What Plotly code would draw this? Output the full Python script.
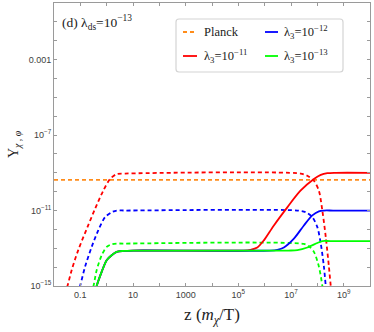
import numpy as np
import plotly.graph_objects as go

# ---- data (log10 values) ----
planck_lx = [-2, 10]
planck_ly = [-9.38, -9.38]

red_dash_lx = [-1.6, -1.49, -1.33, -1.08, -0.73, -0.44, -0.13, 0.13, 0.38, 0.7, 7.36, 7.62, 7.87, 8.06, 8.19, 8.32, 8.44, 8.51, 8.55]
red_dash_ly = [-15.4, -15, -14.16, -13.1, -11.88, -10.91, -9.95, -9.33, -9.07, -9.04, -9.04, -9.16, -9.42, -9.95, -11.0, -12.4, -13.98, -15, -15.5]

blue_dash_lx = [-1.1, -1.01, -0.82, -0.57, -0.32, -0.06, 0.19, 0.38, 0.7, 7.24, 7.56, 7.81, 8.0, 8.13, 8.25, 8.32, 8.36]
blue_dash_ly = [-15.4, -15, -13.98, -12.93, -12.05, -11.35, -11.09, -11.0, -11.0, -11.0, -11.09, -11.35, -11.88, -12.75, -13.98, -15, -15.5]

green_dash_lx = [-0.58, -0.5, -0.38, -0.19, 0.0, 0.19, 0.38, 0.7, 7.49, 7.68, 7.87, 8.06, 8.19, 8.23]
green_dash_ly = [-15.4, -15, -14.16, -13.37, -12.93, -12.79, -12.75, -12.75, -12.77, -12.89, -13.19, -13.98, -15, -15.5]

red_solid_lx = [-0.45, -0.38, -0.19, 0.0, 0.19, 0.38, 0.64, 1.02, 5.2, 5.46, 5.72, 5.97, 6.35, 6.86, 7.36, 7.87, 8.13, 8.38, 8.7, 10]
red_solid_ly = [-15.4, -15, -14.25, -13.63, -13.37, -13.19, -13.14, -13.12, -13.12, -13.08, -12.96, -12.58, -11.79, -10.83, -9.95, -9.33, -9.11, -9.02, -9.0, -9.0]

blue_solid_lx = [-0.45, -0.38, -0.19, 0.0, 0.19, 0.38, 0.64, 1.02, 6.2, 6.48, 6.73, 7.11, 7.49, 7.81, 8.06, 8.25, 8.6, 10]
blue_solid_ly = [-15.4, -15, -14.25, -13.63, -13.37, -13.19, -13.14, -13.12, -13.12, -13.08, -12.96, -12.49, -11.79, -11.26, -11.04, -11.0, -11.0, -11.0]

green_solid_lx = [-0.45, -0.38, -0.19, 0.0, 0.19, 0.38, 0.64, 1.02, 6.9, 7.24, 7.62, 8.0, 8.19, 8.5, 10]
green_solid_ly = [-15.4, -15, -14.25, -13.63, -13.37, -13.19, -13.14, -13.12, -13.12, -13.1, -12.96, -12.72, -12.62, -12.62, -12.62]

x_major_exp = [-1, 1, 3, 5, 7, 9]
x_major_labels = ["0.1", "10", "1000", "10<sup>5</sup>", "10<sup>7</sup>", "10<sup>9</sup>"]
x_minor_exp = list(range(-2, 11))
y_major_exp = [-15, -11, -7, -3]
y_major_labels = ["10<sup>−15</sup>", "10<sup>−11</sup>", "10<sup>−7</sup>", "0.001"]
y_minor_exp = list(range(-15, 1))

legend_labels = ["Planck", "λ<sub>3</sub>=10<sup>−11</sup>", "λ<sub>3</sub>=10<sup>−12</sup>", "λ<sub>3</sub>=10<sup>−13</sup>"]

ORANGE = "#ff8c1a"
RED = "#ff0000"
BLUE = "#0000ff"
GREEN = "#00ff00"
legend_colors = [ORANGE, RED, BLUE, GREEN]
legend_dashes = ["4px,3px", "solid", "solid", "solid"]

def p(v):
    return np.power(10.0, np.array(v, dtype=float))

fig = go.Figure()

def add(lx, ly, color, dash, name, width=1.8):
    fig.add_trace(go.Scatter(
        x=p(lx), y=p(ly), mode="lines",
        line=dict(color=color, dash=dash, width=width, shape="spline", smoothing=0.8),
        name=name, showlegend=False, hoverinfo="skip",
    ))

add(planck_lx, planck_ly, ORANGE, "4px,3px", legend_labels[0])
add(red_dash_lx, red_dash_ly, RED, "4px,3px", legend_labels[1] + " (dashed)")
add(blue_dash_lx, blue_dash_ly, BLUE, "4px,3px", legend_labels[2] + " (dashed)")
add(green_dash_lx, green_dash_ly, GREEN, "4px,3px", legend_labels[3] + " (dashed)")
add(red_solid_lx, red_solid_ly, RED, "solid", legend_labels[1])
add(blue_solid_lx, blue_solid_ly, BLUE, "solid", legend_labels[2])
add(green_solid_lx, green_solid_ly, GREEN, "solid", legend_labels[3])

AX = "#9a9a9a"
tickfont = dict(family="Liberation Sans, Arial, sans-serif", size=9, color="#404040")
serif = "Liberation Serif, Times New Roman, serif"
TXT = "#222222"

fig.update_xaxes(
    type="log", range=[-2, 10], automargin=False,
    tickvals=[10.0 ** e for e in x_major_exp], ticktext=x_major_labels,
    ticks="inside", ticklen=3, tickcolor=AX, tickwidth=1,
    minor=dict(tickvals=[10.0 ** e for e in x_minor_exp], ticks="inside", ticklen=3, tickcolor=AX, tickwidth=1, showgrid=False),
    showline=True, linecolor=AX, linewidth=1, mirror="ticks",
    showgrid=False, zeroline=False, tickfont=tickfont,
    title=dict(text="z (<i>m</i><sub><i>χ</i></sub>/T)", font=dict(family=serif, size=17, color=TXT), standoff=9),
)
fig.update_yaxes(
    type="log", range=[-15, 0], automargin=False,
    tickvals=[10.0 ** e for e in y_major_exp], ticktext=y_major_labels,
    ticks="inside", ticklen=3, tickcolor=AX, tickwidth=1,
    minor=dict(tickvals=[10.0 ** e for e in y_minor_exp], ticks="inside", ticklen=3, tickcolor=AX, tickwidth=1, showgrid=False),
    showline=True, linecolor=AX, linewidth=1, mirror="ticks",
    showgrid=False, zeroline=False, tickfont=tickfont,
    title=dict(text="Y<sub><i>χ</i> , <i>φ</i></sub>", font=dict(family=serif, size=14, color=TXT), standoff=6),
)

# ---- legend box (drawn as shapes + annotations, two columns) ----
W, H, L, T = 316.0, 283.0, 54.0, 3.0
def px(x):
    return (x - L) / W
def py(y):
    return 1 - (y - T) / H

bx0, bx1, by0, by1 = px(176), px(343), py(72), py(19)
rx, ry = 3 / W, 3 / H
box_path = (f"M{bx0+rx},{by1} L{bx1-rx},{by1} Q{bx1},{by1} {bx1},{by1-ry} "
            f"L{bx1},{by0+ry} Q{bx1},{by0} {bx1-rx},{by0} L{bx0+rx},{by0} "
            f"Q{bx0},{by0} {bx0},{by0+ry} L{bx0},{by1-ry} Q{bx0},{by1} {bx0+rx},{by1} Z")
shapes = [dict(type="path", xref="paper", yref="paper", path=box_path,
               line=dict(color="#d4d4d4", width=1.2), fillcolor="white", layer="below")]
annotations = []
slots = [(183, 197, 202, 32), (183, 197, 202, 56), (265, 278, 282, 32), (265, 278, 282, 56)]
for (x0, x1, xt, yy), lab, col, dsh in zip(slots, legend_labels, legend_colors, legend_dashes):
    shapes.append(dict(type="line", xref="paper", yref="paper", x0=px(x0), x1=px(x1), y0=py(yy), y1=py(yy),
                       line=dict(color=col, width=1.8, dash=dsh)))
    annotations.append(dict(text=lab, xref="paper", yref="paper", x=px(xt), y=py(yy),
                            xanchor="left", yanchor="middle", showarrow=False,
                            font=dict(family=serif, size=12.5, color=TXT)))

annotations.append(dict(text="(d) λ<sub>ds</sub>=10<sup>−13</sup>", xref="paper", yref="paper",
                        x=px(60), y=py(22), xanchor="left", yanchor="middle", showarrow=False,
                        font=dict(family=serif, size=13.5, color=TXT)))

fig.update_layout(
    width=374, height=332,
    margin=dict(l=54, r=4, t=3, b=46),
    paper_bgcolor="white", plot_bgcolor="white",
    showlegend=False,
    shapes=shapes,
    annotations=annotations,
)

fig.write_html("out.html", config={"displayModeBar": False},
               post_script="document.body.style.margin='0';document.body.style.padding='0';")
